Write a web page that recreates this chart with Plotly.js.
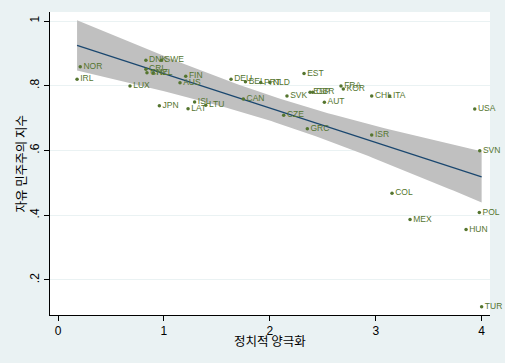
<!DOCTYPE html>
<html>
<head>
<meta charset="utf-8">
<script src="https://cdn.plot.ly/plotly-3.0.1.min.js"></script>
<style>html,body{margin:0;padding:0;background:#eaf2f3;}#chart{width:505px;height:363px;}</style>
</head>
<body>
<div id="chart"></div>
<script>
// country codes, political polarization (x), liberal democracy index (y)
const countries = ["NOR","IRL","DNK","SWE","CRI","CHE","NZL","FIN","AUS","LUX","JPN","ISL","LAT","LTU","DEU","BEL","PRT","NLD","CAN","EST","SVK","ESP","GBR","AUT","FRA","KOR","CHL","ITA","USA","CZE","GRC","ISR","SVN","COL","MEX","POL","HUN","TUR"];
const polarization = [0.21,0.18,0.83,0.976,0.83,0.84,0.90,1.206,1.152,0.68,0.957,1.29,1.228,1.395,1.634,1.77,1.914,2.0,1.75,2.323,2.162,2.38,2.405,2.515,2.672,2.694,2.962,3.132,3.935,2.131,2.354,2.962,3.982,3.154,3.324,3.978,3.853,4.0];
const democracy = [0.859,0.82,0.879,0.879,0.851,0.84,0.84,0.829,0.809,0.799,0.738,0.75,0.729,0.74,0.82,0.812,0.81,0.81,0.759,0.838,0.768,0.78,0.78,0.749,0.799,0.79,0.768,0.768,0.728,0.709,0.667,0.648,0.599,0.468,0.387,0.408,0.356,0.117];
const yTickVals = [0.2,0.4,0.6,0.8,1];
const yTickText = [".2",".4",".6",".8","1"];
const xTickVals = [0,1,2,3,4];
const xTitle = '정치적 양극화';
const yTitle = '자유 민주주의 지수';

// OLS fit with 95% CI of the mean prediction (computed from the data)
const n = polarization.length;
const xbar = polarization.reduce((a,b)=>a+b,0)/n;
const ybar = democracy.reduce((a,b)=>a+b,0)/n;
let sxx=0, sxy=0;
for(let i=0;i<n;i++){sxx+=(polarization[i]-xbar)**2; sxy+=(polarization[i]-xbar)*(democracy[i]-ybar);}
const b1 = sxy/sxx, b0 = ybar-b1*xbar;
let sse=0; for(let i=0;i<n;i++){sse+=(democracy[i]-b0-b1*polarization[i])**2;}
const s = Math.sqrt(sse/(n-2));
const tcrit = 2.028;
const xmin = Math.min(...polarization), xmax = Math.max(...polarization);
const gx=[], gy=[], up=[], lo=[];
for(let k=0;k<=100;k++){
  const x = xmin + (xmax-xmin)*k/100;
  const y = b0+b1*x;
  const se = s*Math.sqrt(1/n + (x-xbar)**2/sxx);
  gx.push(x); gy.push(y); up.push(y+tcrit*se); lo.push(y-tcrit*se);
}

const traces = [
  {x:gx, y:lo, mode:'lines', line:{width:0}, hoverinfo:'skip', showlegend:false},
  {x:gx, y:up, mode:'lines', line:{width:0}, fill:'tonexty', fillcolor:'#c0c0c0', hoverinfo:'skip', showlegend:false},
  {x:gx, y:gy, mode:'lines', line:{color:'#1a476f', width:1.2}, showlegend:false},
  {x:polarization, y:democracy, text:countries, mode:'markers+text', textposition:'middle right', cliponaxis:false,
   marker:{color:'#55752f', size:3.5}, textfont:{family:'Liberation Sans, Arial, sans-serif', size:8.5, color:'#55752f'}, showlegend:false}
];

const layout = {
  width:505, height:363,
  paper_bgcolor:'#eaf2f3', plot_bgcolor:'#ffffff',
  margin:{l:50, r:15, t:12, b:48},
  font:{family:'Liberation Sans, Arial, sans-serif', color:'#000'},
  xaxis:{range:[-0.0755,4.079], tickvals:xTickVals, ticks:'outside', ticklen:5, tickcolor:'#000',
    showline:true, linecolor:'#000', linewidth:1, showgrid:false, zeroline:false,
    tickfont:{size:12}},
  yaxis:{range:[0.0917,1.0278], tickvals:yTickVals, ticktext:yTickText, tickangle:-90, ticks:'outside', ticklen:5, tickcolor:'#000',
    showline:true, linecolor:'#000', linewidth:1, showgrid:true, gridcolor:'#eaf2f3', gridwidth:1, zeroline:false,
    tickfont:{size:12}},
  annotations:[
    {text:xTitle, xref:'paper', yref:'paper', x:0.5, y:-0.0858, xanchor:'center', yanchor:'middle', showarrow:false,
     font:{family:'Noto Sans CJK KR', size:12.5, color:'#000'}},
    {text:yTitle, xref:'paper', yref:'paper', x:-0.068, y:0.5, xanchor:'center', yanchor:'middle', textangle:-90, showarrow:false,
     font:{family:'Noto Sans CJK KR', size:12.5, color:'#000'}}
  ]
};
Plotly.newPlot('chart', traces, layout, {displayModeBar:false, staticPlot:true});
</script>
</body>
</html>
